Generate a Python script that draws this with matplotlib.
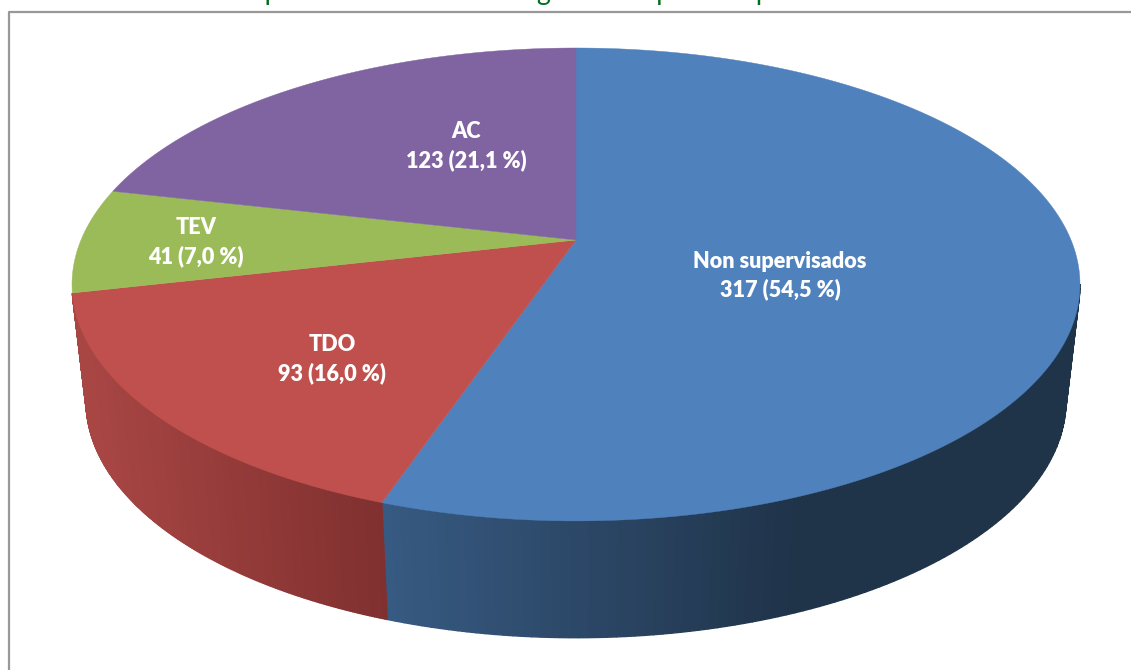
import numpy as np
import matplotlib
matplotlib.use('Agg')
import matplotlib.pyplot as plt
from matplotlib.colors import to_rgb

# counts drive the slices, clockwise from the top
categories = ['Non supervisados', 'TDO', 'TEV', 'AC']
counts = [317, 93, 41, 123]
percents = ['54,5', '16,0', '7,0', '21,1']
top_colors = ['#4f81bd', '#c0504d', '#9bbb59', '#8064a2']
title = 'Gráfica 4. Número e porcentaxe de casos segundo o tipo de supervisión. Galicia 2010'

# wall colours at the left and right end of the shading
wall_colors = {0: ('#375a82', '#1f3349', 385, 800), 1: ('#a84644', '#7f302f', 85, 385)}
label_pos = [(780, 275.5), (332, 359), (196, 242), (466, 146)]

cx, cy = 576, 240
a, b, k = 228.1, 495.0, 0.188
depth, shrink = 116.8, 0.972

fig = plt.figure(figsize=(11.31, 6.7), dpi=100)
ax = fig.add_axes([0, 0, 1, 1])
ax.set_xlim(0, 1131)
ax.set_ylim(670, 0)
ax.axis('off')


def project(t, bottom=False):
    # t is in radians, clockwise from the back of the disc
    u, v = np.sin(t), -np.cos(t)
    w = 1 / (1 - k * v)
    x = b * u * w
    y = a * v * w
    if bottom:
        return cx + shrink * x, cy + y + depth
    return cx + x, cy + y


edges = np.concatenate([[0], np.cumsum(counts)]) / sum(counts) * 2 * np.pi

# walls first, thin strips so the shade can change along x
for i, (c1, c2, x1, x2) in wall_colors.items():
    c1, c2 = np.array(to_rgb(c1)), np.array(to_rgb(c2))
    ts = np.linspace(edges[i], edges[i + 1], 220)
    for t0, t1 in zip(ts[:-1], ts[1:]):
        tx0, ty0 = project(np.array([t0, t1]))
        if ty0.mean() < 285:
            continue  # back part sits behind the top face
        bx0, by0 = project(np.array([t1, t0]), bottom=True)
        f = np.clip((tx0.mean() - x1) / (x2 - x1), 0, 1)
        col = c1 + (c2 - c1) * f
        ax.fill(np.r_[tx0, bx0], np.r_[ty0, by0], color=col, lw=1.0, zorder=2)

for i in range(len(counts)):
    ts = np.linspace(edges[i], edges[i + 1], 300)
    x, y = project(ts)
    ax.fill(np.r_[cx, x], np.r_[cy, y], color=top_colors[i], lw=0.3, zorder=3)

for i, (x, y) in enumerate(label_pos):
    txt = f'{categories[i]}\n{counts[i]} ({percents[i]} %)'
    ax.text(x, y, txt, color='white', family='Lato', weight='heavy', fontsize=15.6,
            ha='center', va='center', linespacing=1.39, zorder=4)

# frame of the chart runs off the right and bottom of the crop
ax.plot([8.5, 8.5, 1131], [670, 11.5, 11.5], color='#989898', lw=1.6, zorder=1)
ax.text(20, 0.2, title, color='#006f1a', family='Lato', fontsize=19.3, va='baseline', zorder=1)

fig.savefig('out.png', dpi=100)
